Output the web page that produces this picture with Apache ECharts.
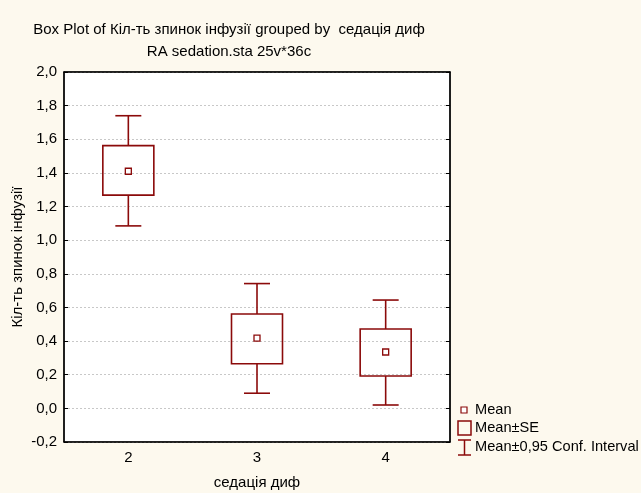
<!DOCTYPE html>
<html><head><meta charset="utf-8">
<script src="https://cdn.jsdelivr.net/npm/echarts@6/dist/echarts.min.js"></script>
<style>html,body{margin:0;padding:0;background:#fdf9ee;}#c{width:641px;height:493px;}</style>
</head><body><div id="c"></div>
<script>
const categories = ['2', '3', '4'];
const ciLow  = [1.085, 0.090, 0.020];
const seLow  = [1.268, 0.265, 0.192];
const means  = [1.410, 0.418, 0.335];
const seHigh = [1.562, 0.561, 0.472];
const ciHigh = [1.740, 0.742, 0.644];
const yTicks = { min: -0.2, max: 2.0, step: 0.2 };

const C = '#8b0a0a';
const data = categories.map((c, i) => [i, ciLow[i], seLow[i], means[i], seHigh[i], ciHigh[i]]);

const chart = echarts.init(document.getElementById('c'), null, {renderer: 'canvas'});
const fmt = v => v.toFixed(1).replace('.', ',').replace('-0,0', '0,0');
const font = 'Arial, "Liberation Sans", sans-serif';
const FS = 15;

chart.setOption({
  backgroundColor: '#fdf9ee',
  animation: false,
  title: [
    {text: 'Box Plot of Кіл-ть зпинок інфузії grouped by  седація диф', left: 224, top: 17, textAlign: 'center',
     textStyle: {fontSize: FS, fontWeight: 'normal', color: '#000', fontFamily: font}},
    {text: 'RA sedation.sta 25v*36c', left: 224, top: 39, textAlign: 'center',
     textStyle: {fontSize: FS, fontWeight: 'normal', color: '#000', fontFamily: font}}
  ],
  grid: {left: 64, right: 191, top: 72, bottom: 51, containLabel: false, outerBoundsMode: 'none',
         show: true, backgroundColor: '#fff', borderColor: '#000', borderWidth: 1},
  xAxis: [
    {type: 'category', data: categories, position: 'bottom',
     name: 'седація диф', nameLocation: 'middle', nameGap: 33,
     nameTextStyle: {fontSize: FS, color: '#000', fontFamily: font},
     axisLine: {onZero: false, lineStyle: {color: '#000', width: 1.5}},
     axisTick: {inside: true, alignWithLabel: true, length: 4, lineStyle: {color: '#000'}},
     axisLabel: {fontSize: FS, color: '#000', margin: 8, fontFamily: font},
     splitLine: {show: false}},
    {type: 'category', data: categories, position: 'top',
     axisLine: {onZero: false, lineStyle: {color: '#000', width: 1.5}},
     axisTick: {inside: true, alignWithLabel: true, length: 4, lineStyle: {color: '#000'}},
     axisLabel: {show: false}, splitLine: {show: false}}
  ],
  yAxis: [
    {type: 'value', min: yTicks.min, max: yTicks.max, interval: yTicks.step, position: 'left',
     name: 'Кіл-ть зпинок інфузії', nameLocation: 'middle', nameGap: 39, nameRotate: 90, nameMoveOverlap: false,
     nameTextStyle: {fontSize: FS, color: '#000', fontFamily: font},
     axisLine: {show: true, onZero: false, lineStyle: {color: '#000', width: 1.5}},
     axisTick: {show: true, inside: true, length: 4, lineStyle: {color: '#000'}},
     axisLabel: {fontSize: FS, color: '#000', margin: 7, formatter: fmt, fontFamily: font},
     splitLine: {show: true, lineStyle: {color: '#c8c8c8', type: [2, 2], width: 1}}},
    {type: 'value', min: yTicks.min, max: yTicks.max, interval: yTicks.step, position: 'right',
     axisLine: {show: true, onZero: false, lineStyle: {color: '#000', width: 1.5}},
     axisTick: {show: true, inside: true, length: 4, lineStyle: {color: '#000'}},
     axisLabel: {show: false}, splitLine: {show: false}}
  ],
  series: [{
    type: 'custom', xAxisIndex: 0, yAxisIndex: 0,
    data: data,
    encode: {x: 0, y: [1, 2, 3, 4, 5]},
    renderItem: function (params, api) {
      const x = api.coord([api.value(0), 0])[0];
      const yLo = api.coord([api.value(0), api.value(1)])[1];
      const yQ1 = api.coord([api.value(0), api.value(2)])[1];
      const yM  = api.coord([api.value(0), api.value(3)])[1];
      const yQ3 = api.coord([api.value(0), api.value(4)])[1];
      const yHi = api.coord([api.value(0), api.value(5)])[1];
      const bw = 51, cw = 26, ms = 6;
      const ls = {stroke: C, lineWidth: 1.6, fill: null};
      return {type: 'group', children: [
        {type: 'line', shape: {x1: x, y1: yHi, x2: x, y2: yQ3}, style: ls},
        {type: 'line', shape: {x1: x, y1: yQ1, x2: x, y2: yLo}, style: ls},
        {type: 'line', shape: {x1: x - cw/2, y1: yHi, x2: x + cw/2, y2: yHi}, style: ls},
        {type: 'line', shape: {x1: x - cw/2, y1: yLo, x2: x + cw/2, y2: yLo}, style: ls},
        {type: 'rect', shape: {x: x - bw/2, y: yQ3, width: bw, height: yQ1 - yQ3}, style: {stroke: C, lineWidth: 1.6, fill: 'none'}},
        {type: 'rect', shape: {x: x - ms/2, y: yM - ms/2, width: ms, height: ms}, style: {stroke: C, lineWidth: 1.3, fill: '#fff'}}
      ]};
    }
  }],
  graphic: [
    {type: 'rect', shape: {x: 461, y: 407, width: 6, height: 6}, style: {stroke: C, lineWidth: 1.2, fill: '#fff'}},
    {type: 'text', x: 475, y: 410, style: {text: 'Mean', fill: '#000', font: '14.6px ' + font, verticalAlign: 'middle'}},
    {type: 'rect', shape: {x: 458, y: 421, width: 13, height: 14}, style: {stroke: C, lineWidth: 1.5, fill: 'none'}},
    {type: 'text', x: 475, y: 428, style: {text: 'Mean±SE', fill: '#000', font: '14.6px ' + font, verticalAlign: 'middle'}},
    {type: 'line', shape: {x1: 458, y1: 440, x2: 471, y2: 440}, style: {stroke: C, lineWidth: 1.5}},
    {type: 'line', shape: {x1: 458, y1: 455, x2: 471, y2: 455}, style: {stroke: C, lineWidth: 1.5}},
    {type: 'line', shape: {x1: 464.5, y1: 440, x2: 464.5, y2: 455}, style: {stroke: C, lineWidth: 1.5}},
    {type: 'text', x: 475, y: 447, style: {text: 'Mean±0,95 Conf. Interval', fill: '#000', font: '14.6px ' + font, verticalAlign: 'middle'}}
  ]
});
</script></body></html>
